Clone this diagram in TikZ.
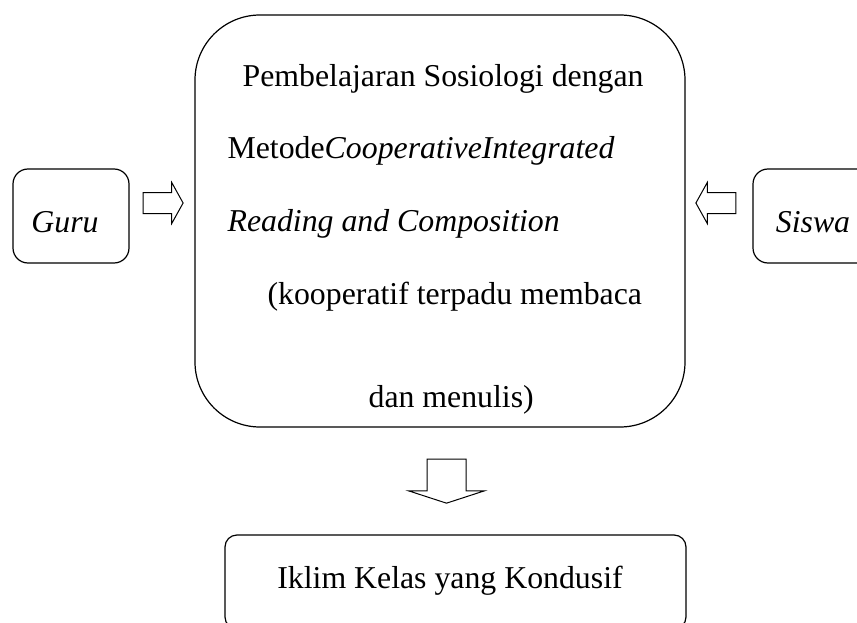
\documentclass[tikz,border=0pt]{standalone}
\usepackage{fontspec}
\setmainfont{Liberation Serif}
\usetikzlibrary{positioning,shapes.arrows}

\begin{document}
\begin{tikzpicture}[x=1pt,y=-1pt,line width=1.2pt,
		box/.style={draw,rounded corners=15pt,inner sep=0pt},
		blockarrow/.style={single arrow,draw,line width=1pt,inner xsep=0pt,inner ysep=10pt,
			minimum height=40pt,
			single arrow head extend=10pt,single arrow tip angle=122},
		line/.style={anchor=base west,inner sep=0pt}]
		\clip (0,0) rectangle (857,623);
		\fontsize{31.8}{38}\selectfont
		% main box
		\node[box,rounded corners=65pt,minimum width=490pt,minimum height=412pt] (main) at (440,221) {};
		\node[line] (l1) at (242,87) {Pembelajaran Sosiologi dengan};
		\node[line] (l2) at (227,159) {Metode\textit{CooperativeIntegrated}};
		\node[line] (l3) at (227,231) {\textit{Reading and Composition}};
		\node[line] (l4) at (267,304) {(kooperatif terpadu membaca};
		\node[line] (l5) at (368,407) {dan menulis)};
		% side boxes
		\node[box,minimum width=116pt,minimum height=94pt,text height=32pt,text depth=0pt] (guru) at (71,216) {\hspace{-12pt}\textit{Guru}};
		\node[box,minimum width=120pt,minimum height=94pt,text height=32pt,text depth=0pt] (siswa) at (813,216) {\textit{Siswa}};
		\node[box,rounded corners=12pt,minimum width=461pt,minimum height=94pt,text height=22pt,text depth=10pt] (iklim) at (455.5,582) {\hspace{-11pt}Iklim Kelas yang Kondusif};
		% arrows
		\node[blockarrow,right=13pt of guru,yshift=13pt] (garrow) {};
		\node[blockarrow,shape border rotate=180,left=16pt of siswa,yshift=13pt] (sarrow) {};
		\node[blockarrow,shape border rotate=270,minimum height=44pt,inner xsep=19pt,inner ysep=0pt,
			single arrow head extend=18.5pt,single arrow tip angle=144] (darrow) at (446.5,478) {};
	\end{tikzpicture}
\end{document}
